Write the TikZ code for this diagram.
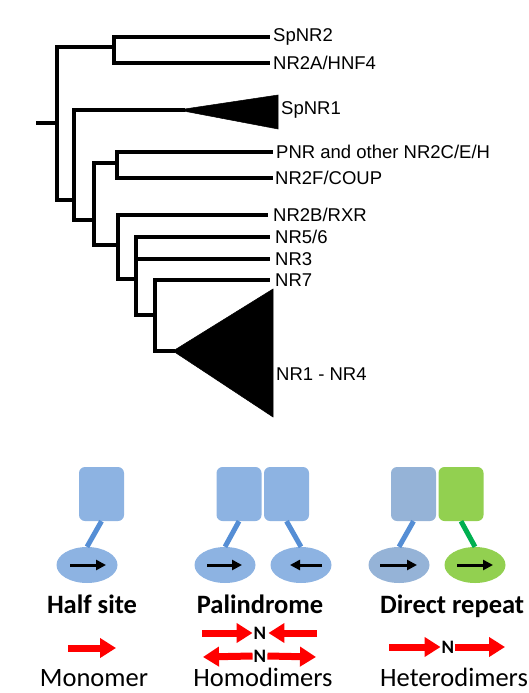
\documentclass[tikz,border=0pt]{standalone}
\usepackage{fontspec}
\setmainfont{Liberation Sans}
\newfontfamily\calibri{Carlito}
\usetikzlibrary{arrows.meta,shapes.geometric}

\definecolor{headblue}{HTML}{8DB3E2}
\definecolor{headgray}{HTML}{95B3D7}
\definecolor{headgreen}{HTML}{92D050}
\definecolor{linkblue}{HTML}{558ED5}
\definecolor{linkgreen}{HTML}{00B050}
\definecolor{siteRed}{HTML}{FF0000}

\tikzset{
  branch/.style={line width=4.5pt, line join=miter},
  clade/.style={fill=black, draw=black, line width=0.5pt},
  leaf/.style={anchor=west, inner sep=0pt, font=\fontsize{18.5}{20}\selectfont},
  head/.style={rounded corners=6pt, minimum width=45pt, minimum height=54pt, inner sep=0pt},
  dbd/.style={ellipse, minimum width=61pt, minimum height=36pt, inner sep=0pt},
  link/.style={line width=5pt},
  dna/.style={line width=3pt, -{Triangle[length=10pt,width=10pt]}},
  halfsite/.style={siteRed, line width=7pt, -{Triangle[length=16pt,width=19pt]}},
  title/.style={font=\calibri\bfseries\fontsize{26.5}{28}\selectfont, inner sep=0pt, anchor=base},
  kind/.style={font=\calibri\fontsize{26.5}{28}\selectfont, inner sep=0pt, anchor=base},
  gap/.style={font=\calibri\bfseries\fontsize{19}{21}\selectfont, inner sep=0pt}
}

\begin{document}
\begin{tikzpicture}[x=1pt, y=-1pt]
  \useasboundingbox (0,0) rectangle (528,693);
  \clip (0,0) rectangle (528,693);

  % Tree nodes
  \coordinate (stub) at (36,123);
  \coordinate (root) at (57,123);
  \coordinate (n1) at (114,47);
  \coordinate (n2) at (74,200);
  \coordinate (n3) at (94,220);
  \coordinate (n4) at (117,163);
  \coordinate (n5) at (118,245);
  \coordinate (n6) at (136,279);
  \coordinate (n7) at (155,315);

  % Tips
  \coordinate (spnr2) at (270,37);
  \coordinate (hnf4) at (270,63);
  \coordinate (spnr1) at (185,110);
  \coordinate (pnr) at (273,152);
  \coordinate (coup) at (273,178);
  \coordinate (rxr) at (268,215);
  \coordinate (nr56) at (270,237);
  \coordinate (nr3) at (270,259);
  \coordinate (nr7) at (270,280);
  \coordinate (nr14) at (175,351);

  % Branches
  \draw [branch] (stub) -- (root);
  \draw [branch] (root) |- (n1);
  \draw [branch] (root) |- (n2);
  \draw [branch] (n1) |- (spnr2);
  \draw [branch] (n1) |- (hnf4);
  \draw [branch] (n2) |- (spnr1);
  \draw [branch] (n2) |- (n3);
  \draw [branch] (n3) |- (n4);
  \draw [branch] (n3) |- (n5);
  \draw [branch] (n4) |- (pnr);
  \draw [branch] (n4) |- (coup);
  \draw [branch] (n5) |- (rxr);
  \draw [branch] (n5) |- (n6);
  \draw [branch] (n6) |- (nr56);
  \draw [branch] (n6) |- (nr3);
  \draw [branch] (n6) |- (n7);
  \draw [branch] (n7) |- (nr7);
  \draw [branch] (n7) |- (nr14);

  % Collapsed clades
  \draw [clade] (178,110) -- (278,95) -- (278,129) -- cycle;
  \draw [clade] (173,351) -- (273,289) -- (273,417) -- cycle;

  % Labels
  \node [leaf] at (273,37) {SpNR2};
  \node [leaf] at (273,63) {NR2A/HNF4};
  \node [leaf] at (281,110) {SpNR1};
  \node [leaf] at (276,152) {PNR and other NR2C/E/H};
  \node [leaf] at (275,178) {NR2F/COUP};
  \node [leaf] at (273,215) {NR2B/RXR};
  \node [leaf] at (275,237) {NR5/6};
  \node [leaf] at (275,259) {NR3};
  \node [leaf] at (275,280) {NR7};
  \node [leaf] at (276,374) {NR1 - NR4};

  % Half site
  \node [head, fill=headblue] (h1) at (101.5,494) {};
  \node [dbd, fill=headblue] (e1) at (87,565) {};
  \draw [link, linkblue] (h1.south) -- (e1.north);
  \draw [dna] ([xshift=-17pt]e1.center) -- ([xshift=19pt]e1.center);

  % Palindrome
  \node [head, fill=headblue] (h2) at (239,494) {};
  \node [head, fill=headblue] (h3) at (286.5,494) {};
  \node [dbd, fill=headblue] (e2) at (225,565) {};
  \node [dbd, fill=headblue] (e3) at (301,565) {};
  \draw [link, linkblue] (h2.south) -- (e2.north);
  \draw [link, linkblue] (h3.south) -- (e3.north);
  \draw [dna] ([xshift=-18pt]e2.center) -- ([xshift=17pt]e2.center);
  \draw [dna] ([xshift=21pt]e3.center) -- ([xshift=-11pt]e3.center);

  % Direct repeat
  \node [head, fill=headgray] (h4) at (413.5,494) {};
  \node [head, fill=headgreen] (h5) at (461,494) {};
  \node [dbd, fill=headgray] (e4) at (399,565) {};
  \node [dbd, fill=headgreen] (e5) at (475,565) {};
  \draw [link, linkblue] (h4.south) -- (e4.north);
  \draw [link, linkgreen] (h5.south) -- (e5.north);
  \draw [dna] ([xshift=-19pt]e4.center) -- ([xshift=18pt]e4.center);
  \draw [dna] ([xshift=-18pt]e5.center) -- ([xshift=18pt]e5.center);

  % Titles
  \node [title] (t1) at (92,613) {Half site};
  \node [title] (t2) at (260,613) {Palindrome};
  \node [title, anchor=base west] (t3) at (380,613) {Direct repeat};

  % Response elements
  \coordinate (m0) at (68,648);
  \coordinate (m1) at (116,648);
  \draw [halfsite] (m0) -- (m1);

  \node [gap] (pn1) at (260,633) {N};
  \node [gap] (pn2) at (260,656) {N};
  \coordinate (pa) at (202,633);
  \coordinate (pb) at (317,633);
  \coordinate (pc) at (203,657);
  \coordinate (pd) at (316,657);
  \draw [halfsite] (pa) -- ([xshift=-1pt]pn1.west);
  \draw [halfsite] (pb) -- ([xshift=2pt]pn1.east);
  \draw [halfsite] ([xshift=-1pt]pn2.west) -- (pc);
  \draw [halfsite] ([xshift=1pt]pn2.east) -- (pd);

  \node [gap] (dn) at (448,647) {N};
  \coordinate (da) at (389,647);
  \coordinate (db) at (505,647);
  \draw [halfsite] (da) -- ([xshift=-1pt]dn.west);
  \draw [halfsite] ([xshift=1pt]dn.east) -- (db);

  % Dimer kinds
  \node [kind] (k1) at (94,686) {Monomer};
  \node [kind] (k2) at (263,686) {Homodimers};
  \node [kind, anchor=base west] (k3) at (380,686) {Heterodimers};
\end{tikzpicture}
\end{document}
